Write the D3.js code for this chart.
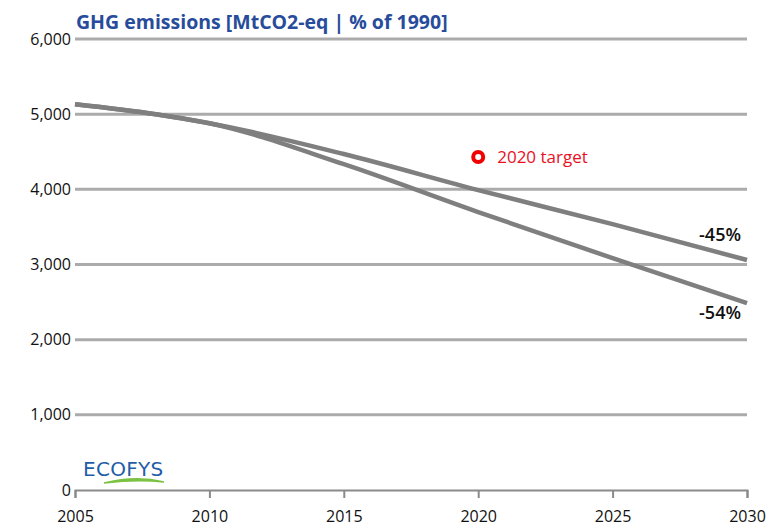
<!DOCTYPE html>
<html>
<head>
<meta charset="utf-8">
<script src="https://cdn.jsdelivr.net/npm/d3@7"></script>
<style>
  body { margin: 0; background: #fff; }
  svg { display: block; font-family: "Open Sans", sans-serif; }
</style>
</head>
<body>
<svg id="chart" width="767" height="526"></svg>
<script>
// years and the two emission pathways (MtCO2-eq)
const years = [2005, 2008, 2010, 2015, 2020, 2025, 2030];
const pathway45 = [5133, 5000, 4880, 4470, 3990, 3537, 3060];
const pathway54 = [5133, 5000, 4880, 4335, 3697, 3085, 2487];
const endLabels = ['-45%', '-54%'];
const target = { year: 2020, value: 4430, label: '2020 target' };
const yTicks = [0, 1000, 2000, 3000, 4000, 5000, 6000];
const xTicks = [2005, 2010, 2015, 2020, 2025, 2030];

const svg = d3.select('#chart');

const x = d3.scaleLinear().domain([2005, 2030]).range([75, 747]);
const y = d3.scaleLinear().domain([0, 6000]).range([490, 39]);

// horizontal gridlines
svg.append('g')
  .selectAll('line')
  .data(yTicks.filter(d => d > 0))
  .enter()
  .append('line')
  .attr('x1', x(2005))
  .attr('x2', x(2030))
  .attr('y1', d => y(d))
  .attr('y2', d => y(d))
  .attr('stroke', '#ababab')
  .attr('stroke-width', 3);

// y labels
svg.append('g')
  .selectAll('text')
  .data(yTicks)
  .enter()
  .append('text')
  .attr('x', 71)
  .attr('y', d => y(d))
  .attr('dy', '0.35em')
  .attr('text-anchor', 'end')
  .attr('font-size', 16)
  .attr('fill', '#111')
  .text(d => d3.format(',')(d));

// x axis
const xAxis = svg.append('g')
  .attr('transform', `translate(0,${y(0)})`)
  .call(d3.axisBottom(x).tickValues(xTicks).tickFormat(d3.format('d')).tickSize(8).tickPadding(13));
xAxis.select('.domain').attr('stroke', '#8a8a8a').attr('stroke-width', 2);
xAxis.selectAll('.tick line').attr('stroke', '#8a8a8a').attr('stroke-width', 2);
xAxis.selectAll('.tick text')
  .attr('font-size', 16)
  .attr('font-family', '"Open Sans", sans-serif')
  .attr('fill', '#111');

// pathway lines
const line = d3.line()
  .x(d => x(d[0]))
  .y(d => y(d[1]))
  .curve(d3.curveMonotoneX);

[pathway45, pathway54].forEach(series => {
  svg.append('path')
    .datum(years.map((yr, i) => [yr, series[i]]))
    .attr('d', line)
    .attr('fill', 'none')
    .attr('stroke', '#7f7f7f')
    .attr('stroke-width', 4.5);
});

// end labels
svg.append('text')
  .attr('x', 741).attr('y', y(pathway45[pathway45.length - 1]) - 25)
  .attr('dy', '0.35em').attr('text-anchor', 'end')
  .attr('font-size', 18).attr('font-weight', 600).attr('fill', '#111')
  .text(endLabels[0]);
svg.append('text')
  .attr('x', 741).attr('y', y(pathway54[pathway54.length - 1]) + 10)
  .attr('dy', '0.35em').attr('text-anchor', 'end')
  .attr('font-size', 18).attr('font-weight', 600).attr('fill', '#111')
  .text(endLabels[1]);

// 2020 target marker
svg.append('circle')
  .attr('cx', x(target.year)).attr('cy', y(target.value))
  .attr('r', 5).attr('fill', 'none')
  .attr('stroke', '#f00000').attr('stroke-width', 4);
svg.append('text')
  .attr('x', x(target.year) + 19).attr('y', y(target.value))
  .attr('dy', '0.35em')
  .attr('font-size', 17).attr('fill', '#e8101e')
  .text(target.label);

// title
svg.append('text')
  .attr('x', 76).attr('y', 29)
  .attr('font-size', 19.5).attr('font-weight', 700).attr('fill', '#274c9b')
  .text('GHG emissions [MtCO2-eq | % of 1990]');

// ECOFYS logo
svg.append('text')
  .attr('x', 83).attr('y', 476)
  .attr('font-size', 20).attr('fill', '#1f5da8')
  .attr('font-family', '"DejaVu Sans", sans-serif')
  .attr('letter-spacing', 0.3)
  .text('ECOFYS');
svg.append('path')
  .attr('d', 'M104,483 Q136,475 164,482 Q137,479 104,483 Z')
  .attr('fill', '#7cc242')
  .attr('stroke', '#7cc242')
  .attr('stroke-width', 1.5);
</script>
</body>
</html>
